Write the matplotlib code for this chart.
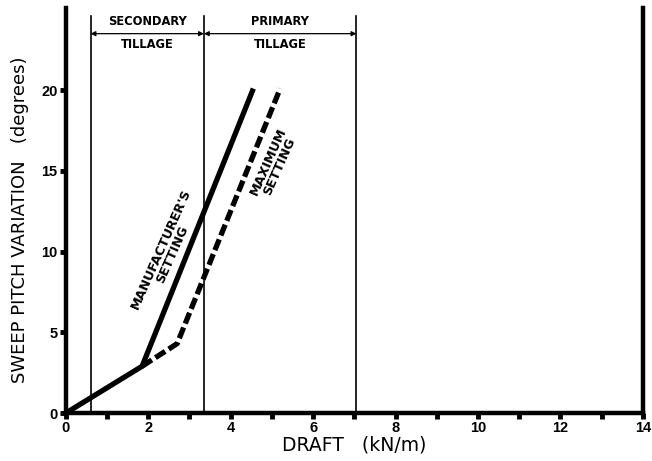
import matplotlib.pyplot as plt
import numpy as np

# data
manu_x = [0.0, 1.85, 4.55]
manu_y = [0.0, 2.9, 20.1]
max_x = [1.85, 2.7, 5.2]
max_y = [2.9, 4.3, 20.1]

zone_edges = [0.6, 3.35, 7.05]
zone_names = [('SECONDARY', 'TILLAGE'), ('PRIMARY', 'TILLAGE')]

x_major = [0, 2, 4, 6, 8, 10, 12, 14]
x_minor = [1, 3, 5, 7, 9, 11, 13]
y_major = [0, 5, 10, 15, 20]

plt.rcParams['font.family'] = ['Liberation Sans', 'DejaVu Sans']
plt.rcParams['font.weight'] = 'bold'

fig = plt.figure(figsize=(6.52, 4.61), dpi=100)
ax = fig.add_axes([0.101, 0.104, 0.885, 0.879])

# curves
ax.plot(manu_x, manu_y, color='black', lw=3.8, solid_capstyle='butt', zorder=3)
ax.plot(max_x, max_y, color='black', lw=3.8, dashes=(2.2, 0.8), zorder=3)

# tillage zones
for xv in zone_edges:
    ax.axvline(xv, ymax=0.98, color='black', lw=1.2)
for (top, bot), x0, x1 in zip(zone_names, zone_edges[:-1], zone_edges[1:]):
    ax.annotate('', xy=(x0, 23.5), xytext=(x1, 23.5),
                arrowprops=dict(arrowstyle='<|-|>', color='black', lw=0.9,
                                mutation_scale=7, shrinkA=0, shrinkB=0))
    xm = (x0 + x1) / 2
    ax.text(xm, 24.25, top, ha='center', va='center', fontsize=8.3, fontweight='bold',
            family='DejaVu Sans')
    ax.text(xm, 22.8, bot, ha='center', va='center', fontsize=8.3, fontweight='bold',
            family='DejaVu Sans')

# curve labels
ax.text(2.45, 10.0, "MANUFACTURER'S\nSETTING", rotation=66, ha='center', va='center',
        fontsize=9.2, fontweight='bold', linespacing=0.95, family='DejaVu Sans')
ax.text(5.05, 15.4, "MAXIMUM\nSETTING", rotation=66, ha='center', va='center',
        fontsize=9.2, fontweight='bold', linespacing=0.95, family='DejaVu Sans')

ax.set_xlim(0, 14)
ax.set_ylim(0, 25.1)
ax.set_xticks(x_major)
ax.set_xticks(x_minor, minor=True)
ax.set_yticks(y_major)
ax.tick_params(axis='both', which='both', direction='out', length=4, width=3.5,
               labelsize=10.5, pad=2)

for side in ['left', 'bottom', 'right']:
    ax.spines[side].set_linewidth(3.2)
ax.spines['top'].set_visible(False)

ax.set_xlabel('DRAFT   (kN/m)', fontsize=13.5, fontweight='normal', labelpad=0,
              family='DejaVu Sans')
ax.set_ylabel('SWEEP PITCH VARIATION   (degrees)', fontsize=13, fontweight='normal',
              family='DejaVu Sans')
ax.yaxis.set_label_coords(-0.064, 0.477)

fig.savefig('out.png', dpi=100)
